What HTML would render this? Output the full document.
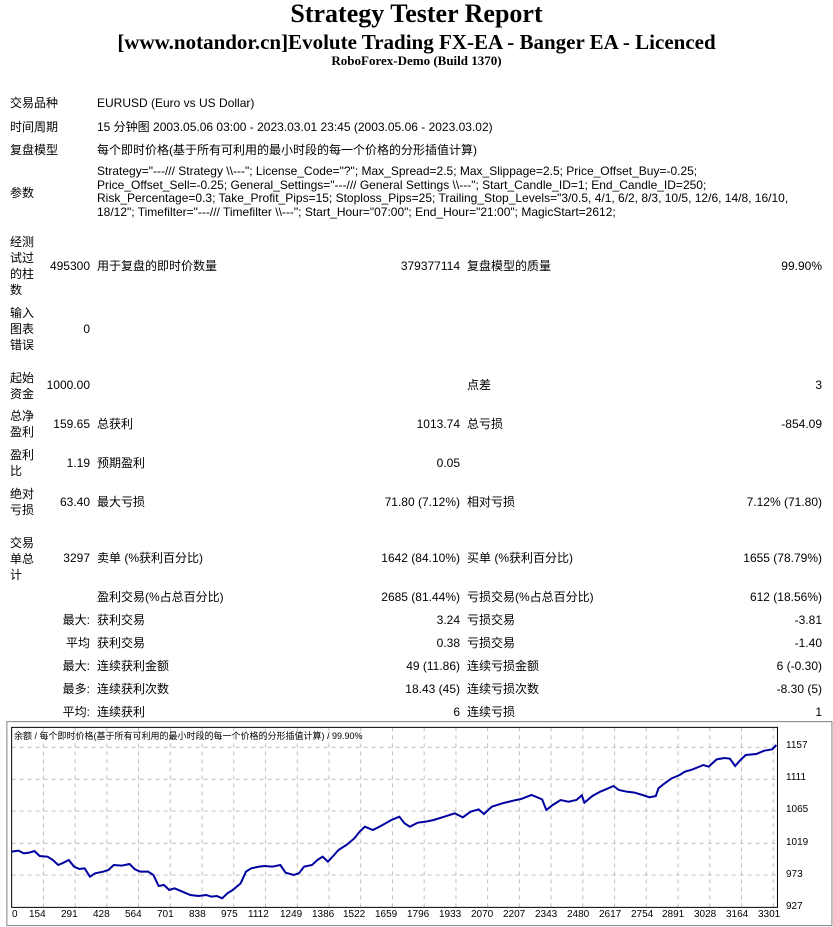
<!DOCTYPE html>
<html><head><meta charset="utf-8">
<style>
body{margin:0;width:833px;height:927px;background:#fff;position:relative;overflow:hidden;font-family:"Liberation Sans","Noto Sans CJK SC",sans-serif;font-size:12px;color:#000}
.a{position:absolute;white-space:nowrap;line-height:14px}
.r{text-align:right}
.t{position:absolute;left:0;width:833px;text-align:center;font-family:"Liberation Serif","Noto Serif CJK SC",serif;font-weight:bold;white-space:nowrap}
.lb{position:absolute;left:10px;width:30px;line-height:16px;white-space:normal}
</style></head><body>
<div class="t" style="top:0;font-size:26px;line-height:28px">Strategy Tester Report</div>
<div class="t" style="top:30px;font-size:21px;line-height:24px">[www.notandor.cn]Evolute Trading FX-EA - Banger EA - Licenced</div>
<div class="t" style="top:54px;font-size:13px;line-height:14px">RoboForex-Demo (Build 1370)</div>

<div class="a" style="left:10px;top:96px">交易品种</div><div class="a" style="left:97px;top:96px">EURUSD (Euro vs US Dollar)</div>
<div class="a" style="left:10px;top:120px">时间周期</div><div class="a" style="left:97px;top:120px">15 分钟图 2003.05.06 03:00 - 2023.03.01 23:45 (2003.05.06 - 2023.03.02)</div>
<div class="a" style="left:10px;top:143px">复盘模型</div><div class="a" style="left:97px;top:143px">每个即时价格(基于所有可利用的最小时段的每一个价格的分形插值计算)</div>
<div class="a" style="left:10px;top:186px">参数</div>
<div class="a" style="left:97px;top:165px;line-height:13.7px">Strategy="---/// Strategy \\---"; License_Code="?"; Max_Spread=2.5; Max_Slippage=2.5; Price_Offset_Buy=-0.25;<br>Price_Offset_Sell=-0.25; General_Settings="---/// General Settings \\---"; Start_Candle_ID=1; End_Candle_ID=250;<br>Risk_Percentage=0.3; Take_Profit_Pips=15; Stoploss_Pips=25; Trailing_Stop_Levels="3/0.5, 4/1, 6/2, 8/3, 10/5, 12/6, 14/8, 16/10,<br>18/12"; Timefilter="---/// Timefilter \\---"; Start_Hour="07:00"; End_Hour="21:00"; MagicStart=2612;</div>

<div class="lb" style="top:234px">经测试过的柱数</div>
<div class="a r" style="left:40px;width:50px;top:259px">495300</div><div class="a" style="left:97px;top:259px">用于复盘的即时价数量</div>
<div class="a r" style="left:360px;width:100px;top:259px">379377114</div><div class="a" style="left:467px;top:259px">复盘模型的质量</div><div class="a r" style="left:700px;width:122px;top:259px">99.90%</div>

<div class="lb" style="top:305px">输入图表错误</div>
<div class="a r" style="left:40px;width:50px;top:322px">0</div>

<div class="lb" style="top:370px">起始资金</div>
<div class="a r" style="left:40px;width:50px;top:378px">1000.00</div><div class="a" style="left:467px;top:378px">点差</div><div class="a r" style="left:700px;width:122px;top:378px">3</div>

<div class="lb" style="top:408px">总净盈利</div>
<div class="a r" style="left:40px;width:50px;top:417px">159.65</div><div class="a" style="left:97px;top:417px">总获利</div><div class="a r" style="left:360px;width:100px;top:417px">1013.74</div><div class="a" style="left:467px;top:417px">总亏损</div><div class="a r" style="left:700px;width:122px;top:417px">-854.09</div>

<div class="lb" style="top:447px">盈利比</div>
<div class="a r" style="left:40px;width:50px;top:456px">1.19</div><div class="a" style="left:97px;top:456px">预期盈利</div><div class="a r" style="left:360px;width:100px;top:456px">0.05</div>

<div class="lb" style="top:486px">绝对亏损</div>
<div class="a r" style="left:40px;width:50px;top:495px">63.40</div><div class="a" style="left:97px;top:495px">最大亏损</div><div class="a r" style="left:300px;width:160px;top:495px">71.80 (7.12%)</div><div class="a" style="left:467px;top:495px">相对亏损</div><div class="a r" style="left:700px;width:122px;top:495px">7.12% (71.80)</div>

<div class="lb" style="top:535px">交易单总计</div>
<div class="a r" style="left:40px;width:50px;top:551px">3297</div><div class="a" style="left:97px;top:551px">卖单 (%获利百分比)</div><div class="a r" style="left:300px;width:160px;top:551px">1642 (84.10%)</div><div class="a" style="left:467px;top:551px">买单 (%获利百分比)</div><div class="a r" style="left:700px;width:122px;top:551px">1655 (78.79%)</div>

<div class="a" style="left:97px;top:590px">盈利交易(%占总百分比)</div><div class="a r" style="left:300px;width:160px;top:590px">2685 (81.44%)</div><div class="a" style="left:467px;top:590px">亏损交易(%占总百分比)</div><div class="a r" style="left:700px;width:122px;top:590px">612 (18.56%)</div>

<div class="a r" style="left:40px;width:50px;top:613px">最大:</div><div class="a" style="left:97px;top:613px">获利交易</div><div class="a r" style="left:300px;width:160px;top:613px">3.24</div><div class="a" style="left:467px;top:613px">亏损交易</div><div class="a r" style="left:700px;width:122px;top:613px">-3.81</div>
<div class="a r" style="left:40px;width:50px;top:636px">平均</div><div class="a" style="left:97px;top:636px">获利交易</div><div class="a r" style="left:300px;width:160px;top:636px">0.38</div><div class="a" style="left:467px;top:636px">亏损交易</div><div class="a r" style="left:700px;width:122px;top:636px">-1.40</div>
<div class="a r" style="left:40px;width:50px;top:659px">最大:</div><div class="a" style="left:97px;top:659px">连续获利金额</div><div class="a r" style="left:300px;width:160px;top:659px">49 (11.86)</div><div class="a" style="left:467px;top:659px">连续亏损金额</div><div class="a r" style="left:700px;width:122px;top:659px">6 (-0.30)</div>
<div class="a r" style="left:40px;width:50px;top:682px">最多:</div><div class="a" style="left:97px;top:682px">连续获利次数</div><div class="a r" style="left:300px;width:160px;top:682px">18.43 (45)</div><div class="a" style="left:467px;top:682px">连续亏损次数</div><div class="a r" style="left:700px;width:122px;top:682px">-8.30 (5)</div>
<div class="a r" style="left:40px;width:50px;top:705px">平均:</div><div class="a" style="left:97px;top:705px">连续获利</div><div class="a r" style="left:300px;width:160px;top:705px">6</div><div class="a" style="left:467px;top:705px">连续亏损</div><div class="a r" style="left:700px;width:122px;top:705px">1</div>

<svg style="position:absolute;left:0;top:720px" width="833" height="207" viewBox="0 0 1575 621" preserveAspectRatio="none">
<g stroke="#c0c0c0" stroke-dasharray="4,4" fill="none">
<path vector-effect="non-scaling-stroke" d="M22 82H1470M22 178H1470M22 273H1470M22 370H1470M22 465H1470"/>
<path vector-effect="non-scaling-stroke" d="M82 22V562M142 22V562M202 22V562M262 22V562M322 22V562M382 22V562M442 22V562M502 22V562M562 22V562M622 22V562M682 22V562M742 22V562M802 22V562M862 22V562M922 22V562M982 22V562M1042 22V562M1102 22V562M1162 22V562M1222 22V562M1282 22V562M1342 22V562M1402 22V562M1462 22V562"/>
</g>
<rect x="22" y="22" width="1448" height="540" fill="none" stroke="#000" vector-effect="non-scaling-stroke"/>
<rect x="13" y="5" width="1560" height="612" fill="none" stroke="#808080" vector-effect="non-scaling-stroke"/>
<polyline fill="none" stroke="#0000a0" stroke-width="2" vector-effect="non-scaling-stroke" points="22,395 35,392 45,400 55,398 65,393 75,408 90,410 100,420 110,435 120,428 130,420 140,440 150,447 160,445 170,470 180,460 195,455 205,450 215,435 230,437 245,432 255,448 265,455 280,455 290,465 300,498 310,495 320,510 330,505 345,515 360,525 375,528 390,525 400,530 410,528 420,535 430,520 440,510 455,490 465,455 475,445 490,440 500,438 515,440 530,435 540,458 555,465 565,460 575,440 590,435 600,420 610,410 620,425 630,408 640,390 655,375 670,355 680,335 690,320 705,330 720,318 740,300 755,290 765,310 775,320 790,308 805,305 820,300 840,290 860,280 875,292 890,275 905,268 915,282 930,260 950,250 970,242 985,237 1005,225 1025,238 1033,270 1045,255 1060,240 1075,245 1090,240 1100,226 1105,248 1120,228 1135,215 1150,205 1160,198 1170,210 1185,215 1200,218 1215,225 1228,232 1240,228 1245,205 1255,192 1270,175 1285,165 1295,155 1310,148 1330,135 1340,140 1355,118 1370,114 1380,116 1390,138 1400,120 1410,105 1430,102 1445,92 1460,88 1468,75"/>
</svg>
<div class="a" style="left:14px;top:731px;font-size:9px;line-height:11px">余额 / 每个即时价格(基于所有可利用的最小时段的每一个价格的分形插值计算) / 99.90%</div>
<div style="position:absolute;left:786px;top:740px;font-size:10px;line-height:12px">
<div style="position:absolute;top:0">1157</div><div style="position:absolute;top:32px">1111</div><div style="position:absolute;top:64px">1065</div><div style="position:absolute;top:97px">1019</div><div style="position:absolute;top:129px">973</div><div style="position:absolute;top:161px">927</div></div>
<div style="position:absolute;top:909px;left:0;font-size:10px;line-height:12px">
<span style="position:absolute;left:12px">0</span><span style="position:absolute;left:29px">154</span><span style="position:absolute;left:61px">291</span><span style="position:absolute;left:93px">428</span><span style="position:absolute;left:125px">564</span><span style="position:absolute;left:157px">701</span><span style="position:absolute;left:189px">838</span><span style="position:absolute;left:221px">975</span><span style="position:absolute;left:248px">1112</span><span style="position:absolute;left:280px">1249</span><span style="position:absolute;left:312px">1386</span><span style="position:absolute;left:343px">1522</span><span style="position:absolute;left:375px">1659</span><span style="position:absolute;left:407px">1796</span><span style="position:absolute;left:439px">1933</span><span style="position:absolute;left:471px">2070</span><span style="position:absolute;left:503px">2207</span><span style="position:absolute;left:535px">2343</span><span style="position:absolute;left:567px">2480</span><span style="position:absolute;left:599px">2617</span><span style="position:absolute;left:631px">2754</span><span style="position:absolute;left:662px">2891</span><span style="position:absolute;left:694px">3028</span><span style="position:absolute;left:726px">3164</span><span style="position:absolute;left:758px">3301</span></div>
</body></html>
